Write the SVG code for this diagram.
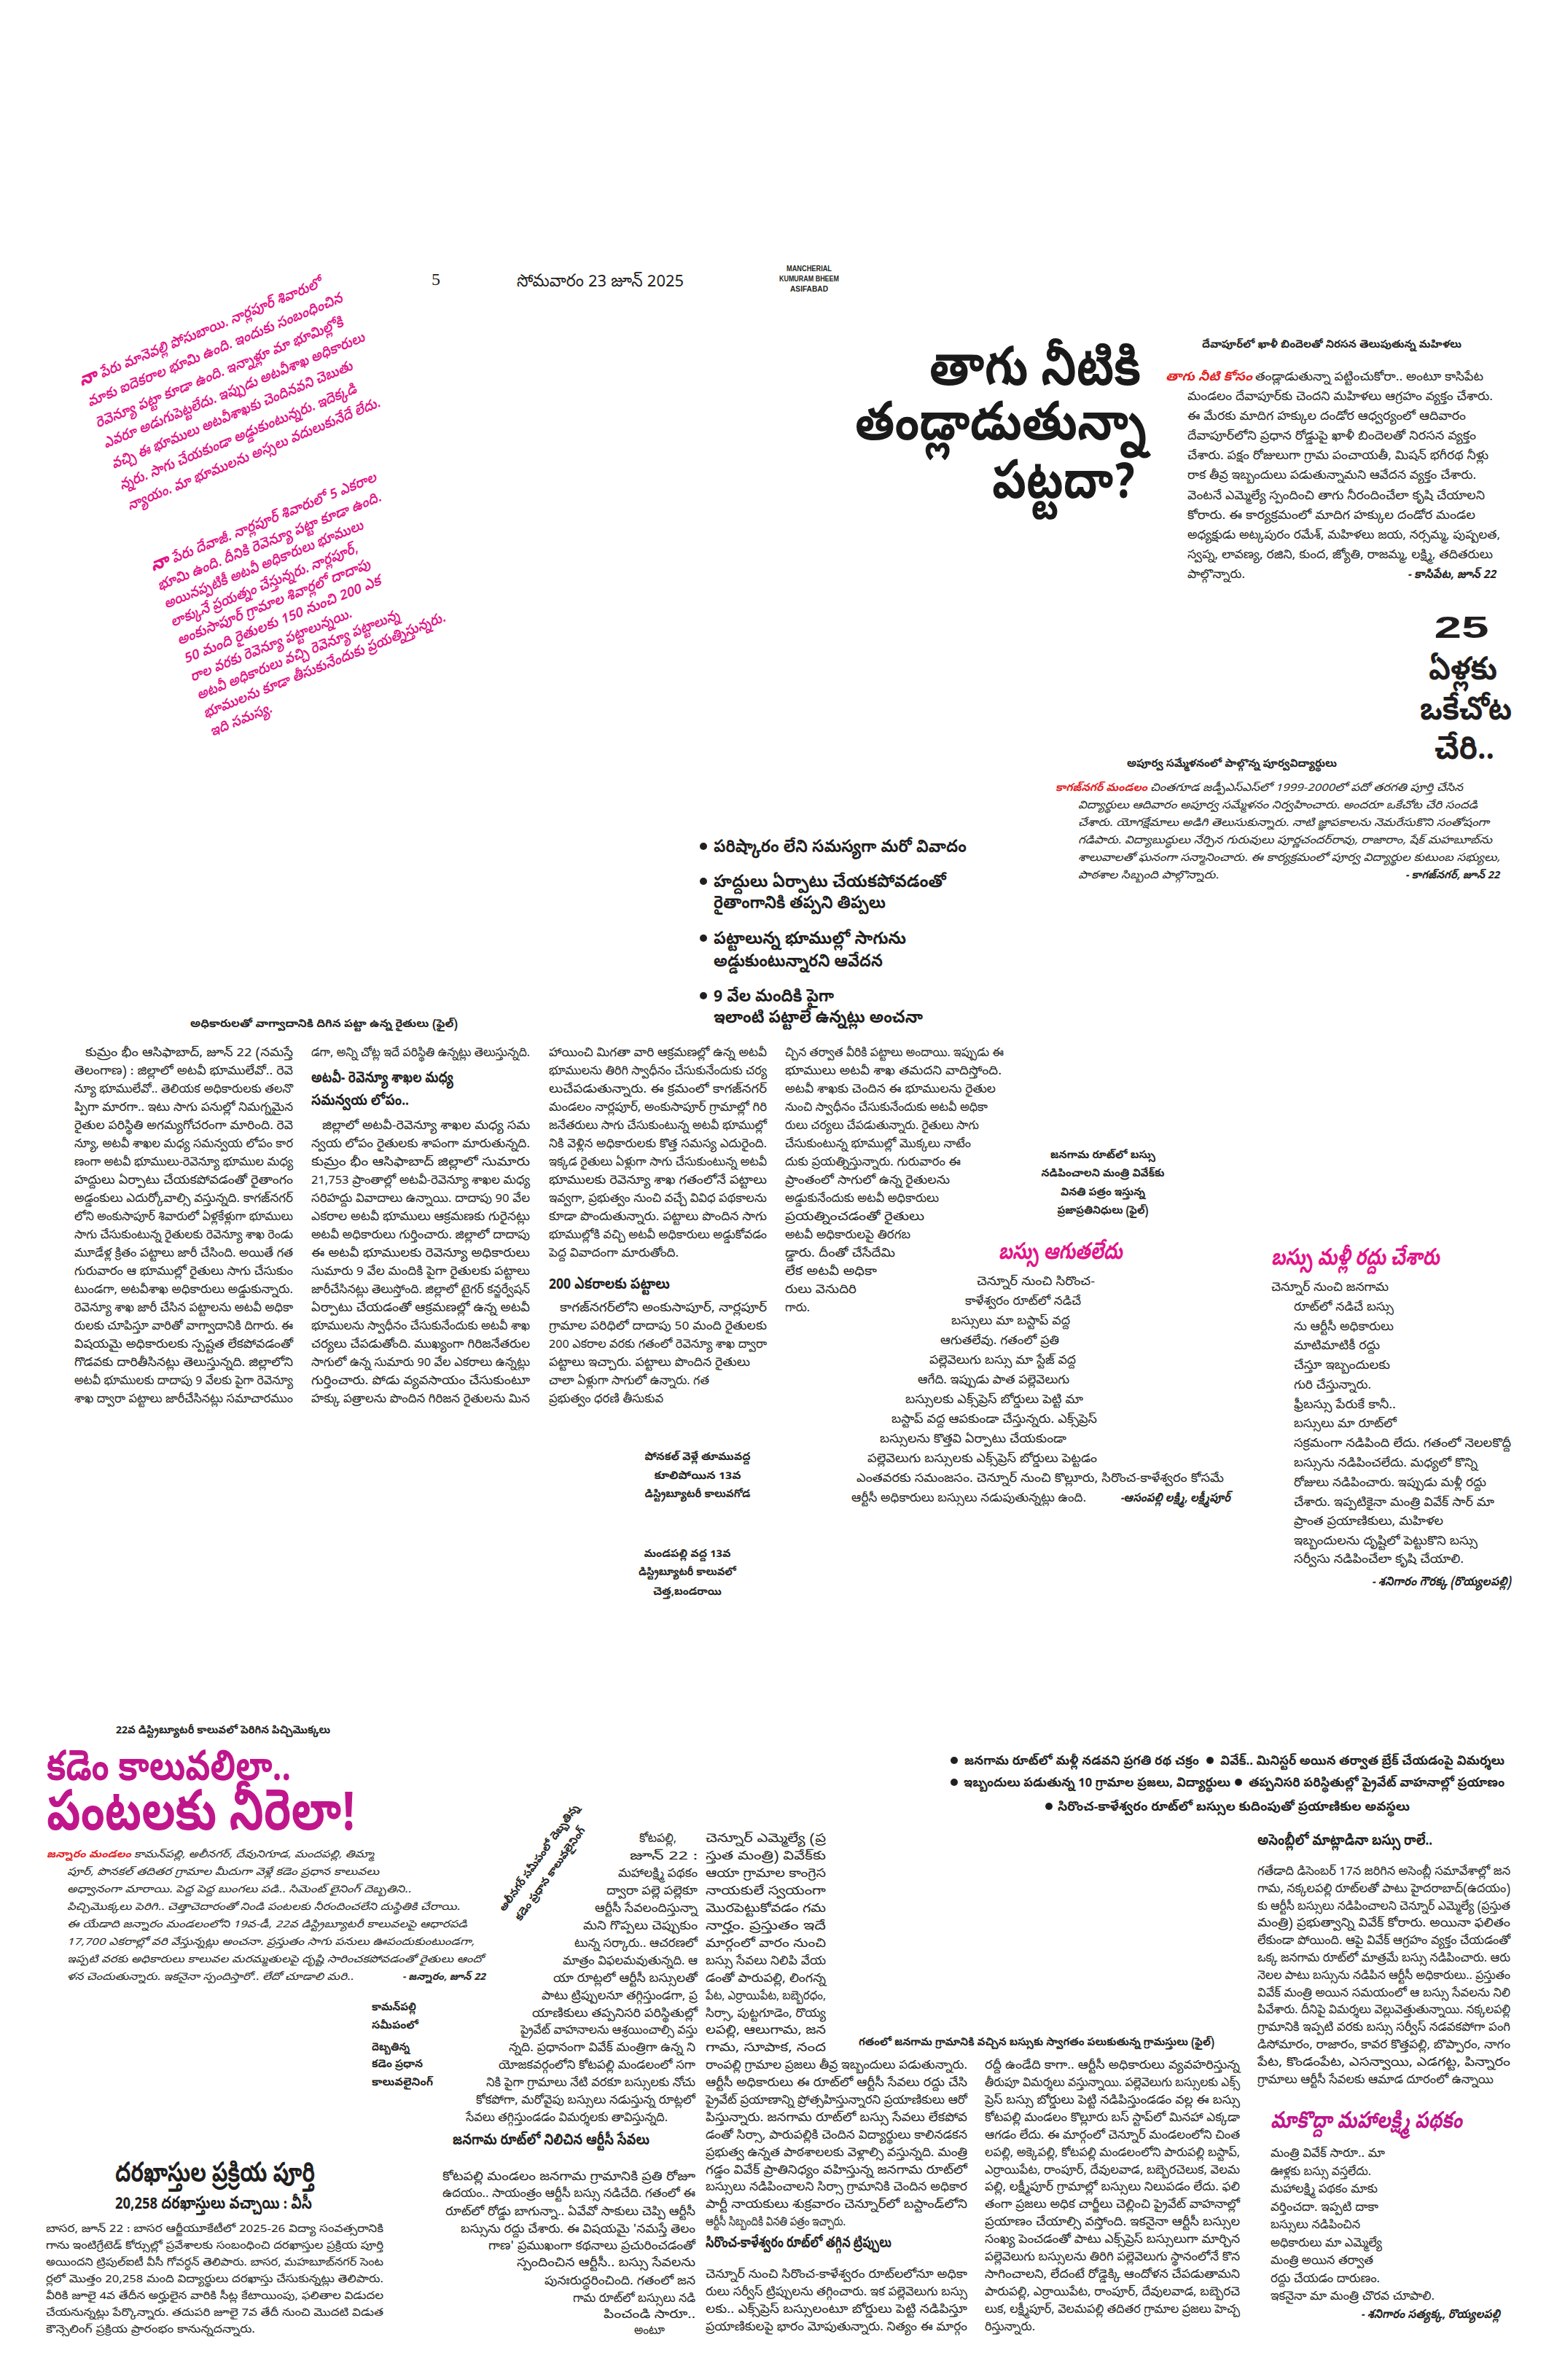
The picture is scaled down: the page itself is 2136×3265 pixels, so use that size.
<svg xmlns="http://www.w3.org/2000/svg" width="2136" height="3265" viewBox="0 0 2136 3265">
<defs>
<style>
text{font-family:"Noto Sans Telugu","Noto Sans","DejaVu Sans",sans-serif;fill:#231f20;font-size:17px}
.s14{font-size:14px}.s15{font-size:15px}.s16{font-size:16px}.s20{font-size:20px}.s24{font-size:24px}
.bd{font-weight:700}.it{font-style:italic}
.pk{fill:#E4138A}.mg{fill:#C0168C}.rd{fill:#E31E24}
.cap{font-size:15px;font-weight:700}
.sub{font-size:21px;font-weight:700}
.rot{font-size:20px;font-weight:600;fill:#E4138A;font-style:italic}
.hl{font-size:74px;font-weight:700;fill:#1a1a1a}
.mast{font-family:"Liberation Sans",Arial,sans-serif;font-size:11px;font-weight:700;text-anchor:middle}
.ser{font-family:"Liberation Serif","Noto Sans Telugu",serif}
</style>
</defs>
<rect width="2136" height="3265" fill="#ffffff"/>

<g id="header">
<text class="ser" x="592" y="391" style="font-size:24px">5</text>
<text x="709" y="393" style="font-size:24px" textLength="229" lengthAdjust="spacingAndGlyphs">సోమవారం 23 జూన్ 2025</text>
<text class="mast" x="1110" y="372" textLength="62" lengthAdjust="spacingAndGlyphs">MANCHERIAL</text>
<text class="mast" x="1110" y="386" textLength="82" lengthAdjust="spacingAndGlyphs">KUMURAM BHEEM</text>
<text class="mast" x="1110" y="400" textLength="52" lengthAdjust="spacingAndGlyphs">ASIFABAD</text>
</g>

<g id="quote-posubai">
<text class="rot" x="112" y="530" transform="rotate(-22.5 112 530)" textLength="358" lengthAdjust="spacingAndGlyphs"><tspan style="font-size:25px;font-weight:800">నా</tspan> పేరు మానెవల్లి పోసుబాయి. నార్లపూర్ శివారులో</text>
<text class="rot" x="123" y="558" transform="rotate(-22.5 123 558)" textLength="377" lengthAdjust="spacingAndGlyphs">మాకు ఐదెకరాల భూమి ఉంది. ఇందుకు సంబంధించిన</text>
<text class="rot" x="134" y="587" transform="rotate(-22.5 134 587)" textLength="366" lengthAdjust="spacingAndGlyphs">రెవెన్యూ పట్టా కూడా ఉంది. ఇన్నాళ్లూ మా భూమిల్లోకి</text>
<text class="rot" x="145" y="615" transform="rotate(-22.5 145 615)" textLength="386" lengthAdjust="spacingAndGlyphs">ఎవరూ అడుగుపెట్టలేదు. ఇప్పుడు అటవీశాఖ అధికారులు</text>
<text class="rot" x="156" y="643" transform="rotate(-22.5 156 643)" textLength="356" lengthAdjust="spacingAndGlyphs">వచ్చి ఈ భూములు అటవీశాఖకు చెందినవని చెబుతు</text>
<text class="rot" x="167" y="672" transform="rotate(-22.5 167 672)" textLength="350" lengthAdjust="spacingAndGlyphs">న్నరు. సాగు చేయకుండా అడ్డుకుంటున్నరు. ఇదెక్కడి</text>
<text class="rot" x="178" y="700" transform="rotate(-22.5 178 700)" textLength="373" lengthAdjust="spacingAndGlyphs">న్యాయం. మా భూములను అస్సలు వదులుకునేదే లేదు.</text>
</g>

<g id="quote-devaji">
<text class="rot" x="210" y="784" transform="rotate(-22 210 784)" textLength="332" lengthAdjust="spacingAndGlyphs"><tspan style="font-size:25px;font-weight:800">నా</tspan> పేరు దేవాజీ. నార్లపూర్ శివారులో 5 ఎకరాల</text>
<text class="rot" x="219" y="810" transform="rotate(-22 219 810)" textLength="329" lengthAdjust="spacingAndGlyphs">భూమి ఉంది. దీనికి రెవెన్యూ పట్టా కూడా ఉంది.</text>
<text class="rot" x="228" y="835" transform="rotate(-22 228 835)" textLength="293" lengthAdjust="spacingAndGlyphs">అయినప్పటికీ అటవీ అధికారులు భూములు</text>
<text class="rot" x="237" y="860" transform="rotate(-22 237 860)" textLength="275" lengthAdjust="spacingAndGlyphs">లాక్కునే ప్రయత్నం చేస్తున్నరు. నార్లపూర్,</text>
<text class="rot" x="246" y="885" transform="rotate(-22 246 885)" textLength="284" lengthAdjust="spacingAndGlyphs">అంకుసాపూర్ గ్రామాల శివార్లలో దాదాపు</text>
<text class="rot" x="255" y="910" transform="rotate(-22 255 910)" textLength="290" lengthAdjust="spacingAndGlyphs">50 మంది రైతులకు 150 నుంచి 200 ఎక</text>
<text class="rot" x="264" y="935" transform="rotate(-22 264 935)" textLength="237" lengthAdjust="spacingAndGlyphs">రాల వరకు రెవెన్యూ పట్టాలున్నయి.</text>
<text class="rot" x="273" y="960" transform="rotate(-22 273 960)" textLength="298" lengthAdjust="spacingAndGlyphs">అటవీ అధికారులు వచ్చి రెవెన్యూ పట్టాలున్న</text>
<text class="rot" x="282" y="985" transform="rotate(-22 282 985)" textLength="356" lengthAdjust="spacingAndGlyphs">భూములను కూడా తీసుకునేందుకు ప్రయత్నిస్తున్నరు.</text>
<text class="rot" x="291" y="1010" transform="rotate(-22 291 1010)" textLength="90" lengthAdjust="spacingAndGlyphs">ఇది సమస్య.</text>
</g>

<g id="water-story">
<text class="hl" x="1275" y="528" textLength="290" lengthAdjust="spacingAndGlyphs">తాగు నీటికి</text>
<text class="hl" x="1173" y="603" textLength="400" lengthAdjust="spacingAndGlyphs">తండ్లాడుతున్నా</text>
<text class="hl" x="1361" y="683" textLength="196" lengthAdjust="spacingAndGlyphs">పట్టదా?</text>
<text class="cap" x="1649" y="477" textLength="356" lengthAdjust="spacingAndGlyphs">దేవాపూర్&#8204;లో ఖాళీ బిందెలతో నిరసన తెలుపుతున్న మహిళలు</text>
<text class="rd bd it" x="1599" y="522" textLength="119" lengthAdjust="spacingAndGlyphs">తాగు నీటి కోసం</text>
<text x="1722" y="522" textLength="313" lengthAdjust="spacingAndGlyphs">తండ్లాడుతున్నా పట్టించుకోరా.. అంటూ కాసిపేట</text>
<text x="1629" y="549" textLength="419" lengthAdjust="spacingAndGlyphs">మండలం దేవాపూర్&#8204;కు చెందని మహిళలు ఆగ్రహం వ్యక్తం చేశారు.</text>
<text x="1629" y="576" textLength="382" lengthAdjust="spacingAndGlyphs">ఈ మేరకు మాదిగ హక్కుల దండోర ఆధ్వర్యంలో ఆదివారం</text>
<text x="1629" y="603" textLength="396" lengthAdjust="spacingAndGlyphs">దేవాపూర్&#8204;లోని ప్రధాన రోడ్డుపై ఖాళీ బిందెలతో నిరసన వ్యక్తం</text>
<text x="1629" y="630" textLength="413" lengthAdjust="spacingAndGlyphs">చేశారు. పక్షం రోజులుగా గ్రామ పంచాయతీ, మిషన్ భగీరథ నీళ్లు</text>
<text x="1629" y="657" textLength="396" lengthAdjust="spacingAndGlyphs">రాక తీవ్ర ఇబ్బందులు పడుతున్నామని ఆవేదన వ్యక్తం చేశారు.</text>
<text x="1629" y="685" textLength="408" lengthAdjust="spacingAndGlyphs">వెంటనే ఎమ్మెల్యే స్పందించి తాగు నీరందించేలా కృషి చేయాలని</text>
<text x="1629" y="712" textLength="395" lengthAdjust="spacingAndGlyphs">కోరారు. ఈ కార్యక్రమంలో మాదిగ హక్కుల దండోర మండల</text>
<text x="1629" y="739" textLength="429" lengthAdjust="spacingAndGlyphs">అధ్యక్షుడు అట్కపురం రమేశ్, మహిళలు జయ, నర్సమ్మ, పుష్పలత,</text>
<text x="1629" y="766" textLength="419" lengthAdjust="spacingAndGlyphs">స్వప్న, లావణ్య, రజిని, కుంద, జ్యోతి, రాజమ్మ, లక్ష్మి, తదితరులు</text>
<text x="1629" y="793" textLength="79" lengthAdjust="spacingAndGlyphs">పాల్గొన్నారు.</text>
<text class="bd it" x="1931" y="793" textLength="121" lengthAdjust="spacingAndGlyphs">- కాసిపేట, జూన్ 22</text>
</g>

<g id="reunion-story">
<text class="bd" x="2005" y="875" text-anchor="middle" style="font-size:42px;font-family:'Liberation Sans',Arial,sans-serif" textLength="75" lengthAdjust="spacingAndGlyphs">25</text>
<text class="bd" x="2007" y="932" text-anchor="middle" style="font-size:44px" textLength="94" lengthAdjust="spacingAndGlyphs">ఏళ్లకు</text>
<text class="bd" x="2011" y="987" text-anchor="middle" style="font-size:44px" textLength="126" lengthAdjust="spacingAndGlyphs">ఒకేచోట</text>
<text class="bd" x="2009" y="1041" text-anchor="middle" style="font-size:44px" textLength="82" lengthAdjust="spacingAndGlyphs">చేరి..</text>
<text class="cap" x="1546" y="1052" textLength="288" lengthAdjust="spacingAndGlyphs">అపూర్వ సమ్మేళనంలో పాల్గొన్న పూర్వవిద్యార్థులు</text>
<text class="rd bd it s15" x="1448" y="1085" textLength="126" lengthAdjust="spacingAndGlyphs">కాగజ్&#8204;నగర్ మండలం</text>
<text class="it s15" x="1578" y="1085" textLength="429" lengthAdjust="spacingAndGlyphs">చింతగూడ జడ్పీఎస్ఎస్&#8204;లో 1999-2000లో పదో తరగతి పూర్తి చేసిన</text>
<text class="it s15" x="1479" y="1109" textLength="548" lengthAdjust="spacingAndGlyphs">విద్యార్థులు ఆదివారం అపూర్వ సమ్మేళనం నిర్వహించారు. అందరూ ఒకేచోట చేరి సందడి</text>
<text class="it s15" x="1479" y="1133" textLength="564" lengthAdjust="spacingAndGlyphs">చేశారు. యోగక్షేమాలు అడిగి తెలుసుకున్నారు. నాటి జ్ఞాపకాలను నెమరేసుకొని సంతోషంగా</text>
<text class="it s15" x="1479" y="1157" textLength="568" lengthAdjust="spacingAndGlyphs">గడిపారు. విద్యాబుద్ధులు నేర్పిన గురువులు పూర్ణచందర్&#8204;రావు, రాజారాం, షేక్ మహబూబ్&#8204;ను</text>
<text class="it s15" x="1479" y="1181" textLength="579" lengthAdjust="spacingAndGlyphs">శాలువాలతో ఘనంగా సన్మానించారు. ఈ కార్యక్రమంలో పూర్వ విద్యార్థుల కుటుంబ సభ్యులు,</text>
<text class="it s15" x="1479" y="1205" textLength="193" lengthAdjust="spacingAndGlyphs">పాఠశాల సిబ్బంది పాల్గొన్నారు.</text>
<text class="bd it s15" x="1928" y="1205" textLength="129" lengthAdjust="spacingAndGlyphs">- కాగజ్&#8204;నగర్, జూన్ 22</text>
</g>

<g id="forest-highlights">
<circle cx="965" cy="1161" r="5" fill="#231f20"/>
<text class="bd s24" x="979" y="1169" textLength="347" lengthAdjust="spacingAndGlyphs">పరిష్కారం లేని సమస్యగా మరో వివాదం</text>
<circle cx="965" cy="1209" r="5" fill="#231f20"/>
<text class="bd s24" x="979" y="1217" textLength="319" lengthAdjust="spacingAndGlyphs">హద్దులు ఏర్పాటు చేయకపోవడంతో</text>
<text class="bd s24" x="979" y="1246" textLength="236" lengthAdjust="spacingAndGlyphs">రైతాంగానికి తప్పని తిప్పలు</text>
<circle cx="965" cy="1287" r="5" fill="#231f20"/>
<text class="bd s24" x="979" y="1295" textLength="264" lengthAdjust="spacingAndGlyphs">పట్టాలున్న భూముల్లో సాగును</text>
<text class="bd s24" x="979" y="1326" textLength="232" lengthAdjust="spacingAndGlyphs">అడ్డుకుంటున్నారని ఆవేదన</text>
<circle cx="965" cy="1366" r="5" fill="#231f20"/>
<text class="bd s24" x="979" y="1374" textLength="165" lengthAdjust="spacingAndGlyphs">9 వేల మందికి పైగా</text>
<text class="bd s24" x="979" y="1403" textLength="287" lengthAdjust="spacingAndGlyphs">ఇలాంటి పట్టాలే ఉన్నట్లు అంచనా</text>
</g>

<g id="forest-story">
<text class="cap" x="261" y="1409" textLength="367" lengthAdjust="spacingAndGlyphs">అధికారులతో వాగ్వాదానికి దిగిన పట్టా ఉన్న రైతులు (ఫైల్)</text>
<text x="117" y="1449" textLength="285" lengthAdjust="spacingAndGlyphs">కుమ్రం భీం ఆసిఫాబాద్, జూన్ 22 (నమస్తే</text>
<text x="102" y="1474" textLength="300" lengthAdjust="spacingAndGlyphs">తెలంగాణ) : జిల్లాలో అటవీ భూములేవో.. రెవె</text>
<text x="102" y="1499" textLength="300" lengthAdjust="spacingAndGlyphs">న్యూ భూములేవో.. తెలియక అధికారులకు తలనొ</text>
<text x="102" y="1524" textLength="300" lengthAdjust="spacingAndGlyphs">ప్పిగా మారగా.. ఇటు సాగు పనుల్లో నిమగ్నమైన</text>
<text x="102" y="1549" textLength="300" lengthAdjust="spacingAndGlyphs">రైతుల పరిస్థితి అగమ్యగోచరంగా మారింది. రెవె</text>
<text x="102" y="1574" textLength="300" lengthAdjust="spacingAndGlyphs">న్యూ, అటవీ శాఖల మధ్య సమన్వయ లోపం కార</text>
<text x="102" y="1599" textLength="300" lengthAdjust="spacingAndGlyphs">ణంగా అటవీ భూములు-రెవెన్యూ భూముల మధ్య</text>
<text x="102" y="1624" textLength="300" lengthAdjust="spacingAndGlyphs">హద్దులు ఏర్పాటు చేయకపోవడంతో రైతాంగం</text>
<text x="102" y="1649" textLength="300" lengthAdjust="spacingAndGlyphs">అడ్డంకులు ఎదుర్కోవాల్సి వస్తున్నది. కాగజ్&#8204;నగర్</text>
<text x="102" y="1674" textLength="300" lengthAdjust="spacingAndGlyphs">లోని అంకుసాపూర్ శివారులో ఏళ్లకేళ్లుగా భూములు</text>
<text x="102" y="1699" textLength="300" lengthAdjust="spacingAndGlyphs">సాగు చేసుకుంటున్న రైతులకు రెవెన్యూ శాఖ రెండు</text>
<text x="102" y="1724" textLength="300" lengthAdjust="spacingAndGlyphs">మూడేళ్ల క్రితం పట్టాలు జారీ చేసింది. అయితే గత</text>
<text x="102" y="1749" textLength="300" lengthAdjust="spacingAndGlyphs">గురువారం ఆ భూముల్లో రైతులు సాగు చేసుకుం</text>
<text x="102" y="1774" textLength="300" lengthAdjust="spacingAndGlyphs">టుండగా, అటవీశాఖ అధికారులు అడ్డుకున్నారు.</text>
<text x="102" y="1799" textLength="300" lengthAdjust="spacingAndGlyphs">రెవెన్యూ శాఖ జారీ చేసిన పట్టాలను అటవీ అధికా</text>
<text x="102" y="1824" textLength="300" lengthAdjust="spacingAndGlyphs">రులకు చూపిస్తూ వారితో వాగ్వాదానికి దిగారు. ఈ</text>
<text x="102" y="1849" textLength="300" lengthAdjust="spacingAndGlyphs">విషయమై అధికారులకు స్పష్టత లేకపోవడంతో</text>
<text x="102" y="1874" textLength="300" lengthAdjust="spacingAndGlyphs">గొడవకు దారితీసినట్లు తెలుస్తున్నది. జిల్లాలోని</text>
<text x="102" y="1899" textLength="300" lengthAdjust="spacingAndGlyphs">అటవీ భూములకు దాదాపు 9 వేలకు పైగా రెవెన్యూ</text>
<text x="102" y="1924" textLength="300" lengthAdjust="spacingAndGlyphs">శాఖ ద్వారా పట్టాలు జారీచేసినట్లు సమాచారముం</text>

<text x="427" y="1449" textLength="300" lengthAdjust="spacingAndGlyphs">డగా, అన్ని చోట్ల ఇదే పరిస్థితి ఉన్నట్లు తెలుస్తున్నది.</text>
<text class="sub" x="427" y="1485" textLength="195" lengthAdjust="spacingAndGlyphs">అటవీ- రెవెన్యూ శాఖల మధ్య</text>
<text class="sub" x="427" y="1516" textLength="134" lengthAdjust="spacingAndGlyphs">సమన్వయ లోపం..</text>
<text x="442" y="1549" textLength="285" lengthAdjust="spacingAndGlyphs">జిల్లాలో అటవీ-రెవెన్యూ శాఖల మధ్య సమ</text>
<text x="427" y="1574" textLength="300" lengthAdjust="spacingAndGlyphs">న్వయ లోపం రైతులకు శాపంగా మారుతున్నది.</text>
<text x="427" y="1599" textLength="300" lengthAdjust="spacingAndGlyphs">కుమ్రం భీం ఆసిఫాబాద్ జిల్లాలో సుమారు</text>
<text x="427" y="1624" textLength="300" lengthAdjust="spacingAndGlyphs">21,753 ప్రాంతాల్లో అటవీ-రెవెన్యూ శాఖల మధ్య</text>
<text x="427" y="1649" textLength="300" lengthAdjust="spacingAndGlyphs">సరిహద్దు వివాదాలు ఉన్నాయి. దాదాపు 90 వేల</text>
<text x="427" y="1674" textLength="300" lengthAdjust="spacingAndGlyphs">ఎకరాల అటవీ భూములు ఆక్రమణకు గురైనట్లు</text>
<text x="427" y="1699" textLength="300" lengthAdjust="spacingAndGlyphs">అటవీ అధికారులు గుర్తించారు. జిల్లాలో దాదాపు</text>
<text x="427" y="1724" textLength="300" lengthAdjust="spacingAndGlyphs">ఈ అటవీ భూములకు రెవెన్యూ అధికారులు</text>
<text x="427" y="1749" textLength="300" lengthAdjust="spacingAndGlyphs">సుమారు 9 వేల మందికి పైగా రైతులకు పట్టాలు</text>
<text x="427" y="1774" textLength="300" lengthAdjust="spacingAndGlyphs">జారీచేసినట్లు తెలుస్తోంది. జిల్లాలో టైగర్ కన్జర్వేషన్</text>
<text x="427" y="1799" textLength="300" lengthAdjust="spacingAndGlyphs">ఏర్పాటు చేయడంతో ఆక్రమణల్లో ఉన్న అటవీ</text>
<text x="427" y="1824" textLength="300" lengthAdjust="spacingAndGlyphs">భూములను స్వాధీనం చేసుకునేందుకు అటవీ శాఖ</text>
<text x="427" y="1849" textLength="300" lengthAdjust="spacingAndGlyphs">చర్యలు చేపడుతోంది. ముఖ్యంగా గిరిజనేతరుల</text>
<text x="427" y="1874" textLength="300" lengthAdjust="spacingAndGlyphs">సాగులో ఉన్న సుమారు 90 వేల ఎకరాలు ఉన్నట్లు</text>
<text x="427" y="1899" textLength="300" lengthAdjust="spacingAndGlyphs">గుర్తించారు. పోడు వ్యవసాయం చేసుకుంటూ</text>
<text x="427" y="1924" textLength="300" lengthAdjust="spacingAndGlyphs">హక్కు పత్రాలను పొందిన గిరిజన రైతులను మిన</text>

<text x="753" y="1449" textLength="299" lengthAdjust="spacingAndGlyphs">హాయించి మిగతా వారి ఆక్రమణల్లో ఉన్న అటవీ</text>
<text x="753" y="1474" textLength="299" lengthAdjust="spacingAndGlyphs">భూములను తిరిగి స్వాధీనం చేసుకునేందుకు చర్య</text>
<text x="753" y="1499" textLength="299" lengthAdjust="spacingAndGlyphs">లుచేపడుతున్నారు. ఈ క్రమంలో కాగజ్&#8204;నగర్</text>
<text x="753" y="1524" textLength="299" lengthAdjust="spacingAndGlyphs">మండలం నార్లపూర్, అంకుసాపూర్ గ్రామాల్లో గిరి</text>
<text x="753" y="1549" textLength="299" lengthAdjust="spacingAndGlyphs">జనేతరులు సాగు చేసుకుంటున్న అటవీ భూముల్లో</text>
<text x="753" y="1574" textLength="299" lengthAdjust="spacingAndGlyphs">నికి వెళ్లిన అధికారులకు కొత్త సమస్య ఎదురైంది.</text>
<text x="753" y="1599" textLength="299" lengthAdjust="spacingAndGlyphs">ఇక్కడ రైతులు ఏళ్లుగా సాగు చేసుకుంటున్న అటవీ</text>
<text x="753" y="1624" textLength="299" lengthAdjust="spacingAndGlyphs">భూములకు రెవెన్యూ శాఖ గతంలోనే పట్టాలు</text>
<text x="753" y="1649" textLength="299" lengthAdjust="spacingAndGlyphs">ఇవ్వగా, ప్రభుత్వం నుంచి వచ్చే వివిధ పథకాలను</text>
<text x="753" y="1674" textLength="299" lengthAdjust="spacingAndGlyphs">కూడా పొందుతున్నారు. పట్టాలు పొందిన సాగు</text>
<text x="753" y="1699" textLength="299" lengthAdjust="spacingAndGlyphs">భూముల్లోకి వచ్చి అటవీ అధికారులు అడ్డుకోవడం</text>
<text x="753" y="1724" textLength="178" lengthAdjust="spacingAndGlyphs">పెద్ద వివాదంగా మారుతోంది.</text>
<text class="sub" x="753" y="1768" textLength="166" lengthAdjust="spacingAndGlyphs">200 ఎకరాలకు పట్టాలు</text>
<text x="768" y="1799" textLength="284" lengthAdjust="spacingAndGlyphs">కాగజ్&#8204;నగర్&#8204;లోని అంకుసాపూర్, నార్లపూర్</text>
<text x="753" y="1824" textLength="299" lengthAdjust="spacingAndGlyphs">గ్రామాల పరిధిలో దాదాపు 50 మంది రైతులకు</text>
<text x="753" y="1849" textLength="299" lengthAdjust="spacingAndGlyphs">200 ఎకరాల వరకు గతంలో రెవెన్యూ శాఖ ద్వారా</text>
<text x="753" y="1874" textLength="276" lengthAdjust="spacingAndGlyphs">పట్టాలు ఇచ్చారు. పట్టాలు పొందిన రైతులు</text>
<text x="753" y="1899" textLength="220" lengthAdjust="spacingAndGlyphs">చాలా ఏళ్లుగా సాగులో ఉన్నారు. గత</text>
<text x="753" y="1924" textLength="157" lengthAdjust="spacingAndGlyphs">ప్రభుత్వం ధరణి తీసుకువ</text>

<text x="1077" y="1449" textLength="300" lengthAdjust="spacingAndGlyphs">చ్చిన తర్వాత వీరికి పట్టాలు అందాయి. ఇప్పుడు ఈ</text>
<text x="1077" y="1474" textLength="297" lengthAdjust="spacingAndGlyphs">భూములు అటవీ శాఖ తమదని వాదిస్తోంది.</text>
<text x="1077" y="1499" textLength="289" lengthAdjust="spacingAndGlyphs">అటవీ శాఖకు చెందిన ఈ భూములను రైతుల</text>
<text x="1077" y="1524" textLength="278" lengthAdjust="spacingAndGlyphs">నుంచి స్వాధీనం చేసుకునేందుకు అటవీ అధికా</text>
<text x="1077" y="1549" textLength="266" lengthAdjust="spacingAndGlyphs">రులు చర్యలు చేపడుతున్నారు. రైతులు సాగు</text>
<text x="1077" y="1574" textLength="255" lengthAdjust="spacingAndGlyphs">చేసుకుంటున్న భూముల్లో మొక్కలు నాటేం</text>
<text x="1077" y="1599" textLength="241" lengthAdjust="spacingAndGlyphs">దుకు ప్రయత్నిస్తున్నారు. గురువారం ఈ</text>
<text x="1077" y="1624" textLength="226" lengthAdjust="spacingAndGlyphs">ప్రాంతంలో సాగులో ఉన్న రైతులను</text>
<text x="1077" y="1649" textLength="211" lengthAdjust="spacingAndGlyphs">అడ్డుకునేందుకు అటవీ అధికారులు</text>
<text x="1077" y="1674" textLength="191" lengthAdjust="spacingAndGlyphs">ప్రయత్నించడంతో      రైతులు</text>
<text x="1077" y="1699" textLength="172" lengthAdjust="spacingAndGlyphs">అటవీ అధికారులపై తిరగబ</text>
<text x="1077" y="1724" textLength="151" lengthAdjust="spacingAndGlyphs">డ్డారు.  దీంతో  చేసేదేమి</text>
<text x="1077" y="1749" textLength="126" lengthAdjust="spacingAndGlyphs">లేక   అటవీ   అధికా</text>
<text x="1077" y="1774" textLength="98" lengthAdjust="spacingAndGlyphs">రులు    వెనుదిరి</text>
<text x="1077" y="1799" textLength="34" lengthAdjust="spacingAndGlyphs">గారు.</text>
</g>

<g id="bus-stop-story">
<text class="cap" x="1513" y="1589" text-anchor="middle" textLength="144" lengthAdjust="spacingAndGlyphs">జనగామ రూట్&#8204;లో బస్సు</text>
<text class="cap" x="1513" y="1614" text-anchor="middle" textLength="169" lengthAdjust="spacingAndGlyphs">నడిపించాలని మంత్రి వివేక్&#8204;కు</text>
<text class="cap" x="1513" y="1640" text-anchor="middle" textLength="116" lengthAdjust="spacingAndGlyphs">వినతి పత్రం ఇస్తున్న</text>
<text class="cap" x="1513" y="1665" text-anchor="middle" textLength="125" lengthAdjust="spacingAndGlyphs">ప్రజాప్రతినిధులు (ఫైల్)</text>
<text class="pk bd it" x="1370" y="1727" style="font-size:32px" textLength="170" lengthAdjust="spacingAndGlyphs">బస్సు ఆగుతలేదు</text>
<text x="1340" y="1763" textLength="162" lengthAdjust="spacingAndGlyphs">చెన్నూర్ నుంచి సిరొంచ-</text>
<text x="1324" y="1790" textLength="159" lengthAdjust="spacingAndGlyphs">కాళేశ్వరం రూట్&#8204;లో నడిచే</text>
<text x="1305" y="1817" textLength="163" lengthAdjust="spacingAndGlyphs">బస్సులు మా బస్టాప్ వద్ద</text>
<text x="1290" y="1844" textLength="163" lengthAdjust="spacingAndGlyphs">ఆగుతలేవు. గతంలో ప్రతి</text>
<text x="1275" y="1871" textLength="201" lengthAdjust="spacingAndGlyphs">పల్లెవెలుగు బస్సు మా స్టేజ్ వద్ద</text>
<text x="1259" y="1898" textLength="208" lengthAdjust="spacingAndGlyphs">ఆగేది. ఇప్పుడు పాత పల్లెవెలుగు</text>
<text x="1242" y="1925" textLength="244" lengthAdjust="spacingAndGlyphs">బస్సులకు ఎక్స్&#8204;ప్రెస్ బోర్డులు పెట్టి మా</text>
<text x="1223" y="1952" textLength="282" lengthAdjust="spacingAndGlyphs">బస్టాప్ వద్ద ఆపకుండా చేస్తున్నరు. ఎక్స్&#8204;ప్రెస్</text>
<text x="1207" y="1979" textLength="256" lengthAdjust="spacingAndGlyphs">బస్సులను కొత్తవి ఏర్పాటు చేయకుండా</text>
<text x="1190" y="2006" textLength="315" lengthAdjust="spacingAndGlyphs">పల్లెవెలుగు బస్సులకు ఎక్స్&#8204;ప్రెస్ బోర్డులు పెట్టడం</text>
<text x="1175" y="2033" textLength="504" lengthAdjust="spacingAndGlyphs">ఎంతవరకు సమంజసం. చెన్నూర్ నుంచి కొల్లూరు, సిరొంచ-కాళేశ్వరం కోసమే</text>
<text x="1168" y="2060" textLength="322" lengthAdjust="spacingAndGlyphs">ఆర్టీసీ అధికారులు బస్సులు నడుపుతున్నట్లు ఉంది.</text>
<text class="bd it" x="1537" y="2060" textLength="151" lengthAdjust="spacingAndGlyphs">-ఆసంపల్లి లక్ష్మి, లక్ష్మీపూర్</text>
</g>

<g id="bus-cancel-story">
<text class="pk bd it" x="1744" y="1735" style="font-size:32px" textLength="231" lengthAdjust="spacingAndGlyphs">బస్సు మళ్లీ రద్దు చేశారు</text>
<text x="1744" y="1771" textLength="161" lengthAdjust="spacingAndGlyphs">చెన్నూర్ నుంచి జనగామ</text>
<text x="1775" y="1798" textLength="137" lengthAdjust="spacingAndGlyphs">రూట్&#8204;లో నడిచే బస్సు</text>
<text x="1775" y="1825" textLength="137" lengthAdjust="spacingAndGlyphs">ను ఆర్టీసీ అధికారులు</text>
<text x="1775" y="1851" textLength="118" lengthAdjust="spacingAndGlyphs">మాటిమాటికీ రద్దు</text>
<text x="1775" y="1878" textLength="132" lengthAdjust="spacingAndGlyphs">చేస్తూ ఇబ్బందులకు</text>
<text x="1775" y="1905" textLength="106" lengthAdjust="spacingAndGlyphs">గురి చేస్తున్నారు.</text>
<text x="1775" y="1932" textLength="140" lengthAdjust="spacingAndGlyphs">ఫ్రీబస్సు పేరుకే కానీ..</text>
<text x="1775" y="1958" textLength="141" lengthAdjust="spacingAndGlyphs">బస్సులు మా రూట్&#8204;లో</text>
<text x="1775" y="1985" textLength="298" lengthAdjust="spacingAndGlyphs">సక్రమంగా నడిపింది లేదు. గతంలో నెలలకొద్దీ</text>
<text x="1775" y="2012" textLength="252" lengthAdjust="spacingAndGlyphs">బస్సును నడిపించలేదు. మధ్యలో కొన్ని</text>
<text x="1775" y="2039" textLength="264" lengthAdjust="spacingAndGlyphs">రోజులు నడిపించారు. ఇప్పుడు మళ్లీ రద్దు</text>
<text x="1775" y="2066" textLength="275" lengthAdjust="spacingAndGlyphs">చేశారు. ఇప్పటికైనా మంత్రి వివేక్ సార్ మా</text>
<text x="1775" y="2092" textLength="205" lengthAdjust="spacingAndGlyphs">ప్రాంత ప్రయాణికులు, మహిళల</text>
<text x="1775" y="2119" textLength="252" lengthAdjust="spacingAndGlyphs">ఇబ్బందులను దృష్టిలో పెట్టుకొని బస్సు</text>
<text x="1775" y="2144" textLength="233" lengthAdjust="spacingAndGlyphs">సర్వీసు నడిపించేలా కృషి చేయాలి.</text>
<text class="bd it" x="1882" y="2175" textLength="191" lengthAdjust="spacingAndGlyphs">- శనిగారం గౌరక్క (రొయ్యలపల్లి)</text>
</g>

<g id="canal-photo-captions">
<text class="cap" x="957" y="2003" text-anchor="middle" textLength="145" lengthAdjust="spacingAndGlyphs">పోనకల్ వెళ్లే తూమువద్ద</text>
<text class="cap" x="957" y="2029" text-anchor="middle" textLength="119" lengthAdjust="spacingAndGlyphs">కూలిపోయిన 13వ</text>
<text class="cap" x="957" y="2054" text-anchor="middle" textLength="145" lengthAdjust="spacingAndGlyphs">డిస్ట్రిబ్యూటరీ కాలువగోడ</text>
<text class="cap" x="943" y="2136" text-anchor="middle" textLength="119" lengthAdjust="spacingAndGlyphs">మండపల్లి వద్ద 13వ</text>
<text class="cap" x="943" y="2161" text-anchor="middle" textLength="134" lengthAdjust="spacingAndGlyphs">డిస్ట్రిబ్యూటరీ కాలువలో</text>
<text class="cap" x="943" y="2188" text-anchor="middle" textLength="94" lengthAdjust="spacingAndGlyphs">చెత్త,బండరాయి</text>
</g>

<g id="kadem-story">
<text class="cap" x="159" y="2378" textLength="294" lengthAdjust="spacingAndGlyphs">22వ డిస్ట్రిబ్యూటరీ కాలువలో పెరిగిన పిచ్చిమొక్కలు</text>
<text class="mg bd" x="64" y="2442" style="font-size:58px" textLength="335" lengthAdjust="spacingAndGlyphs">కడెం కాలువలిలా..</text>
<text class="mg bd" x="64" y="2510" style="font-size:78px" textLength="424" lengthAdjust="spacingAndGlyphs">పంటలకు నీరెలా!</text>
<text class="rd bd it s14" x="64" y="2548" textLength="116" lengthAdjust="spacingAndGlyphs">జన్నారం మండలం</text>
<text class="it s14" x="184" y="2548" textLength="329" lengthAdjust="spacingAndGlyphs">కామన్&#8204;పల్లి, అలీనగర్, దేవునిగూడ, మందపల్లి, తిమ్మా</text>
<text class="it s14" x="92" y="2572" textLength="428" lengthAdjust="spacingAndGlyphs">పూర్, పొనకల్ తదితర గ్రామాల మీదుగా వెళ్లే కడెం ప్రధాన కాలువలు</text>
<text class="it s14" x="92" y="2596" textLength="472" lengthAdjust="spacingAndGlyphs">అధ్వానంగా మారాయి. పెద్ద పెద్ద బుంగలు పడి.. సిమెంట్ లైనింగ్ దెబ్బతిని..</text>
<text class="it s14" x="92" y="2620" textLength="539" lengthAdjust="spacingAndGlyphs">పిచ్చిమొక్కలు పెరిగి.. చెత్తాచెదారంతో నిండి పంటలకు నీరందించలేని దుస్థితికి చేరాయి.</text>
<text class="it s14" x="92" y="2644" textLength="549" lengthAdjust="spacingAndGlyphs">ఈ యేడాది జన్నారం మండలంలోని 19వ-డీ, 22వ డిస్ట్రిబ్యూటరీ కాలువలపై ఆధారపడి</text>
<text class="it s14" x="92" y="2668" textLength="559" lengthAdjust="spacingAndGlyphs">17,700 ఎకరాల్లో వరి వేస్తున్నట్లు అంచనా. ప్రస్తుతం సాగు పనులు ఊపందుకుంటుండగా,</text>
<text class="it s14" x="92" y="2692" textLength="571" lengthAdjust="spacingAndGlyphs">ఇప్పటి వరకు అధికారులు కాలువల మరమ్మతులపై దృష్టి సారించకపోవడంతో రైతులు ఆందో</text>
<text class="it s14" x="92" y="2716" textLength="393" lengthAdjust="spacingAndGlyphs">ళన చెందుతున్నారు. ఇకనైనా స్పందిస్తారో.. లేదో చూడాలి మరి..</text>
<text class="bd it s14" x="552" y="2716" textLength="114" lengthAdjust="spacingAndGlyphs">- జన్నారం, జూన్ 22</text>
<text class="cap" x="510" y="2758" textLength="61" lengthAdjust="spacingAndGlyphs">కామన్&#8204;పల్లి</text>
<text class="cap" x="510" y="2783" textLength="64" lengthAdjust="spacingAndGlyphs">సమీపంలో</text>
<text class="cap" x="510" y="2813" textLength="52" lengthAdjust="spacingAndGlyphs">దెబ్బతిన్న</text>
<text class="cap" x="510" y="2836" textLength="70" lengthAdjust="spacingAndGlyphs">కడెం ప్రధాన</text>
<text class="cap" x="510" y="2861" textLength="84" lengthAdjust="spacingAndGlyphs">కాలువలైనింగ్</text>
<text class="cap" x="692" y="2623" transform="rotate(-54.5 692 2623)" textLength="176" lengthAdjust="spacingAndGlyphs">అలీనగర్ సమీపంలో దెబ్బతిన్న</text>
<text class="cap" x="714" y="2636" transform="rotate(-54.5 714 2636)" textLength="154" lengthAdjust="spacingAndGlyphs">కడెం ప్రధాన కాలువలైనింగ్</text>
</g>

<g id="iiit-story">
<text class="bd" x="158" y="2993" style="font-size:38px" textLength="274" lengthAdjust="spacingAndGlyphs">దరఖాస్తుల ప్రక్రియ పూర్తి</text>
<text class="bd" x="158" y="3030" style="font-size:24px" textLength="270" lengthAdjust="spacingAndGlyphs">20,258 దరఖాస్తులు వచ్చాయి : వీసీ</text>
<text class="s15" x="63" y="3062" textLength="463" lengthAdjust="spacingAndGlyphs">బాసర, జూన్ 22 : బాసర ఆర్జీయూకేటీలో 2025-26 విద్యా సంవత్సరానికి</text>
<text class="s15" x="63" y="3085" textLength="463" lengthAdjust="spacingAndGlyphs">గాను ఇంటిగ్రేటెడ్ కోర్సుల్లో ప్రవేశాలకు సంబంధించి దరఖాస్తుల ప్రక్రియ పూర్తి</text>
<text class="s15" x="63" y="3108" textLength="463" lengthAdjust="spacingAndGlyphs">అయిందని ట్రిపుల్&#8204;ఐటీ వీసీ గోవర్ధన్ తెలిపారు. బాసర, మహబూబ్&#8204;నగర్ సెంట</text>
<text class="s15" x="63" y="3131" textLength="463" lengthAdjust="spacingAndGlyphs">ర్లలో మొత్తం 20,258 మంది విద్యార్థులు దరఖాస్తు చేసుకున్నట్లు తెలిపారు.</text>
<text class="s15" x="63" y="3154" textLength="463" lengthAdjust="spacingAndGlyphs">వీరికి జూలై 4వ తేదీన అర్హులైన వారికి సీట్ల కేటాయింపు, ఫలితాల విడుదల</text>
<text class="s15" x="63" y="3177" textLength="463" lengthAdjust="spacingAndGlyphs">చేయనున్నట్లు పేర్కొన్నారు. తదుపరి జూలై 7వ తేదీ నుంచి మొదటి విడుత</text>
<text class="s15" x="63" y="3200" textLength="287" lengthAdjust="spacingAndGlyphs">కౌన్సెలింగ్ ప్రక్రియ ప్రారంభం కానున్నదన్నారు.</text>
</g>

<g id="bus-main-highlights">
<circle cx="1309" cy="2415" r="5" fill="#231f20"/>
<text class="bd" x="1323" y="2421" style="font-size:18px" textLength="322" lengthAdjust="spacingAndGlyphs">జనగామ రూట్&#8204;లో మళ్లీ నడవని ప్రగతి రథ చక్రం</text>
<circle cx="1660" cy="2415" r="5" fill="#231f20"/>
<text class="bd" x="1674" y="2421" style="font-size:18px" textLength="390" lengthAdjust="spacingAndGlyphs">వివేక్.. మినిస్టర్ అయిన తర్వాత బ్రేక్ చేయడంపై విమర్శలు</text>
<circle cx="1309" cy="2445" r="5" fill="#231f20"/>
<text class="bd" x="1322" y="2451" style="font-size:18px" textLength="366" lengthAdjust="spacingAndGlyphs">ఇబ్బందులు పడుతున్న 10 గ్రామాల ప్రజలు, విద్యార్థులు</text>
<circle cx="1699" cy="2445" r="5" fill="#231f20"/>
<text class="bd" x="1713" y="2451" style="font-size:18px" textLength="351" lengthAdjust="spacingAndGlyphs">తప్పనిసరి పరిస్థితుల్లో ప్రైవేట్ వాహనాల్లో ప్రయాణం</text>
<circle cx="1439" cy="2478" r="5" fill="#231f20"/>
<text class="bd" x="1451" y="2484" style="font-size:18px" textLength="483" lengthAdjust="spacingAndGlyphs">సిరొంచ-కాళేశ్వరం రూట్&#8204;లో బస్సుల కుదింపుతో ప్రయాణికుల అవస్థలు</text>
</g>

<g id="bus-main-story-col1">
<text x="877" y="2527" textLength="51" lengthAdjust="spacingAndGlyphs">కోటపల్లి,</text>
<text x="864" y="2551" textLength="93" lengthAdjust="spacingAndGlyphs">జూన్   22   :</text>
<text x="848" y="2575" textLength="109" lengthAdjust="spacingAndGlyphs">మహాలక్ష్మి పథకం</text>
<text x="832" y="2599" textLength="125" lengthAdjust="spacingAndGlyphs">ద్వారా పల్లె పల్లెకూ</text>
<text x="816" y="2623" textLength="141" lengthAdjust="spacingAndGlyphs">ఆర్టీసీ సేవలందిస్తున్నా</text>
<text x="800" y="2647" textLength="157" lengthAdjust="spacingAndGlyphs">మని గొప్పలు చెప్పుకుం</text>
<text x="788" y="2671" textLength="169" lengthAdjust="spacingAndGlyphs">టున్న సర్కారు.. ఆచరణలో</text>
<text x="772" y="2695" textLength="185" lengthAdjust="spacingAndGlyphs">మాత్రం విఫలమవుతున్నది. ఆ</text>
<text x="759" y="2719" textLength="198" lengthAdjust="spacingAndGlyphs">యా రూట్లలో ఆర్టీసీ బస్సులతో</text>
<text x="743" y="2743" textLength="214" lengthAdjust="spacingAndGlyphs">పాటు ట్రిప్పులనూ తగ్గిస్తుండగా, ప్ర</text>
<text x="730" y="2767" textLength="227" lengthAdjust="spacingAndGlyphs">యాణికులు తప్పనిసరి పరిస్థితుల్లో</text>
<text x="714" y="2790" textLength="243" lengthAdjust="spacingAndGlyphs">ప్రైవేట్ వాహనాలను ఆశ్రయించాల్సి వస్తు</text>
<text x="698" y="2814" textLength="256" lengthAdjust="spacingAndGlyphs">న్నది. ప్రధానంగా వివేక్ మంత్రిగా ఉన్న ని</text>
<text x="684" y="2838" textLength="270" lengthAdjust="spacingAndGlyphs">యోజకవర్గంలోని కోటపల్లి మండలంలో సగా</text>
<text x="667" y="2862" textLength="287" lengthAdjust="spacingAndGlyphs">నికి పైగా గ్రామాలు నేటి వరకూ బస్సులకు నోచు</text>
<text x="653" y="2886" textLength="301" lengthAdjust="spacingAndGlyphs">కోకపోగా, మరోవైపు బస్సులు నడుస్తున్న రూట్లలో</text>
<text x="639" y="2910" textLength="277" lengthAdjust="spacingAndGlyphs">సేవలు తగ్గిస్తుండడం విమర్శలకు తావిస్తున్నది.</text>
<text class="sub" x="621" y="2942" textLength="270" lengthAdjust="spacingAndGlyphs">జనగామ రూట్&#8204;లో నిలిచిన ఆర్టీసీ సేవలు</text>
<text x="607" y="2991" textLength="347" lengthAdjust="spacingAndGlyphs">కోటపల్లి మండలం జనగామ గ్రామానికి ప్రతి రోజూ</text>
<text x="607" y="3014" textLength="347" lengthAdjust="spacingAndGlyphs">ఉదయం.. సాయంత్రం ఆర్టీసీ బస్సు నడిచేది. గతంలో ఈ</text>
<text x="611" y="3039" textLength="343" lengthAdjust="spacingAndGlyphs">రూట్&#8204;లో రోడ్డు బాగున్నా.. ఏవేవో సాకులు చెప్పి ఆర్టీసీ</text>
<text x="632" y="3063" textLength="322" lengthAdjust="spacingAndGlyphs">బస్సును రద్దు చేశారు. ఈ విషయమై 'నమస్తే తెలం</text>
<text x="670" y="3086" textLength="284" lengthAdjust="spacingAndGlyphs">గాణ' ప్రముఖంగా కథనాలు ప్రచురించడంతో</text>
<text x="709" y="3109" textLength="245" lengthAdjust="spacingAndGlyphs">స్పందించిన   ఆర్టీసీ..   బస్సు   సేవలను</text>
<text x="747" y="3134" textLength="207" lengthAdjust="spacingAndGlyphs">పునఃరుద్ధరించింది.  గతంలో  జన</text>
<text x="786" y="3158" textLength="168" lengthAdjust="spacingAndGlyphs">గామ రూట్&#8204;లో బస్సులు నడి</text>
<text x="828" y="3180" textLength="126" lengthAdjust="spacingAndGlyphs">పించండి     సారూ..</text>
<text x="870" y="3202" textLength="42" lengthAdjust="spacingAndGlyphs">అంటూ</text>
</g>

<g id="bus-main-story-col2">
<text x="968" y="2527" textLength="165" lengthAdjust="spacingAndGlyphs">చెన్నూర్ ఎమ్మెల్యే (ప్ర</text>
<text x="968" y="2551" textLength="165" lengthAdjust="spacingAndGlyphs">స్తుత మంత్రి) వివేక్&#8204;కు</text>
<text x="968" y="2575" textLength="165" lengthAdjust="spacingAndGlyphs">ఆయా గ్రామాల కాంగ్రెస</text>
<text x="968" y="2599" textLength="165" lengthAdjust="spacingAndGlyphs">నాయకులే స్వయంగా</text>
<text x="968" y="2623" textLength="165" lengthAdjust="spacingAndGlyphs">మొరపెట్టుకోవడం గమ</text>
<text x="968" y="2647" textLength="165" lengthAdjust="spacingAndGlyphs">నార్హం. ప్రస్తుతం ఇదే</text>
<text x="968" y="2671" textLength="165" lengthAdjust="spacingAndGlyphs">మార్గంలో వారం నుంచి</text>
<text x="968" y="2695" textLength="165" lengthAdjust="spacingAndGlyphs">బస్సు సేవలు నిలిపి వేయ</text>
<text x="968" y="2719" textLength="165" lengthAdjust="spacingAndGlyphs">డంతో పారుపల్లి, లింగన్న</text>
<text x="968" y="2743" textLength="165" lengthAdjust="spacingAndGlyphs">పేట, ఎర్రాయిపేట, బబ్బెరధం,</text>
<text x="968" y="2767" textLength="165" lengthAdjust="spacingAndGlyphs">సిర్సా, పుట్టగూడెం, రొయ్య</text>
<text x="968" y="2790" textLength="165" lengthAdjust="spacingAndGlyphs">లపల్లి, ఆలుగామ, జన</text>
<text x="968" y="2814" textLength="165" lengthAdjust="spacingAndGlyphs">గామ, సూపాక, నంద</text>
<text x="968" y="2838" textLength="359" lengthAdjust="spacingAndGlyphs">రాంపల్లి గ్రామాల ప్రజలు తీవ్ర ఇబ్బందులు పడుతున్నారు.</text>
<text x="968" y="2862" textLength="359" lengthAdjust="spacingAndGlyphs">ఆర్టీసీ అధికారులు ఈ రూట్&#8204;లో ఆర్టీసీ సేవలు రద్దు చేసి</text>
<text x="968" y="2886" textLength="359" lengthAdjust="spacingAndGlyphs">ప్రైవేట్ ప్రయాణాన్ని ప్రోత్సహిస్తున్నారని ప్రయాణికులు ఆరో</text>
<text x="968" y="2910" textLength="359" lengthAdjust="spacingAndGlyphs">పిస్తున్నారు. జనగామ రూట్&#8204;లో బస్సు సేవలు లేకపోవ</text>
<text x="968" y="2934" textLength="359" lengthAdjust="spacingAndGlyphs">డంతో సిర్సా, పారుపల్లికి చెందిన విద్యార్థులు కాలినడకన</text>
<text x="968" y="2958" textLength="359" lengthAdjust="spacingAndGlyphs">ప్రభుత్వ ఉన్నత పాఠశాలలకు వెళ్లాల్సి వస్తున్నది. మంత్రి</text>
<text x="968" y="2982" textLength="359" lengthAdjust="spacingAndGlyphs">గడ్డం వివేక్ ప్రాతినిధ్యం వహిస్తున్న జనగామ రూట్&#8204;లో</text>
<text x="968" y="3005" textLength="359" lengthAdjust="spacingAndGlyphs">బస్సులు నడిపించాలని సిర్సా గ్రామానికి చెందిన అధికార</text>
<text x="968" y="3029" textLength="359" lengthAdjust="spacingAndGlyphs">పార్టీ నాయకులు శుక్రవారం చెన్నూర్&#8204;లో బస్టాండ్&#8204;లోని</text>
<text x="968" y="3053" textLength="192" lengthAdjust="spacingAndGlyphs">ఆర్టీసీ సిబ్బందికి వినతి పత్రం ఇచ్చారు.</text>
<text class="sub" x="968" y="3083" textLength="255" lengthAdjust="spacingAndGlyphs">సిరొంచ-కాళేశ్వరం రూట్&#8204;లో తగ్గిన ట్రిప్పులు</text>
<text x="968" y="3125" textLength="359" lengthAdjust="spacingAndGlyphs">చెన్నూర్ నుంచి సిరొంచ-కాళేశ్వరం రూట్&#8204;లలోనూ అధికా</text>
<text x="968" y="3149" textLength="359" lengthAdjust="spacingAndGlyphs">రులు సర్వీస్ ట్రిప్పులను తగ్గించారు. ఇక పల్లెవెలుగు బస్సు</text>
<text x="968" y="3173" textLength="359" lengthAdjust="spacingAndGlyphs">లకు.. ఎక్స్&#8204;ప్రెస్ బస్సులంటూ బోర్డులు పెట్టి నడిపిస్తూ</text>
<text x="968" y="3197" textLength="359" lengthAdjust="spacingAndGlyphs">ప్రయాణికులపై భారం మోపుతున్నారు. నిత్యం ఈ మార్గం</text>
</g>

<g id="bus-main-story-col3">
<text class="cap" x="1178" y="2806" textLength="488" lengthAdjust="spacingAndGlyphs">గతంలో జనగామ గ్రామానికి వచ్చిన బస్సుకు స్వాగతం పలుకుతున్న గ్రామస్తులు (ఫైల్)</text>
<text x="1351" y="2838" textLength="350" lengthAdjust="spacingAndGlyphs">రద్దీ ఉండేది కాగా.. ఆర్టీసీ అధికారులు వ్యవహరిస్తున్న</text>
<text x="1351" y="2862" textLength="350" lengthAdjust="spacingAndGlyphs">తీరుపూ విమర్శలు వస్తున్నాయి. పల్లెవెలుగు బస్సులకు ఎక్స్</text>
<text x="1351" y="2886" textLength="350" lengthAdjust="spacingAndGlyphs">ప్రెస్ బస్సు బోర్డులు పెట్టి నడిపిస్తుండడం వల్ల ఈ బస్సు</text>
<text x="1351" y="2910" textLength="350" lengthAdjust="spacingAndGlyphs">కోటపల్లి మండలం కొల్లూరు బస్ స్టాప్&#8204;లో మినహా ఎక్కడా</text>
<text x="1351" y="2934" textLength="350" lengthAdjust="spacingAndGlyphs">ఆగడం లేదు. ఈ మార్గంలో చెన్నూర్ మండలంలోని చింత</text>
<text x="1351" y="2958" textLength="350" lengthAdjust="spacingAndGlyphs">లపల్లి, అక్కెపల్లి, కోటపల్లి మండలంలోని పారుపల్లి బస్టాప్,</text>
<text x="1351" y="2982" textLength="350" lengthAdjust="spacingAndGlyphs">ఎర్రాయిపేట, రాంపూర్, దేవులవాడ, బబ్బెరచెలుక, వెలమ</text>
<text x="1351" y="3005" textLength="350" lengthAdjust="spacingAndGlyphs">పల్లి, లక్ష్మీపూర్ గ్రామాల్లో బస్సులు నిలుపడం లేదు. ఫలి</text>
<text x="1351" y="3029" textLength="350" lengthAdjust="spacingAndGlyphs">తంగా ప్రజలు అధిక చార్జీలు చెల్లించి ప్రైవేట్ వాహనాల్లో</text>
<text x="1351" y="3053" textLength="350" lengthAdjust="spacingAndGlyphs">ప్రయాణం చేయాల్సి వస్తోంది. ఇకనైనా ఆర్టీసీ బస్సుల</text>
<text x="1351" y="3077" textLength="350" lengthAdjust="spacingAndGlyphs">సంఖ్య పెంచడంతో పాటు ఎక్స్&#8204;ప్రెస్ బస్సులుగా మార్చిన</text>
<text x="1351" y="3101" textLength="350" lengthAdjust="spacingAndGlyphs">పల్లెవెలుగు బస్సులను తిరిగి పల్లెవెలుగు స్థానంలోనే కొన</text>
<text x="1351" y="3125" textLength="350" lengthAdjust="spacingAndGlyphs">సాగించాలని, లేదంటే రోడ్డెక్కి ఆందోళన చేపడుతామని</text>
<text x="1351" y="3149" textLength="350" lengthAdjust="spacingAndGlyphs">పారుపల్లి, ఎర్రాయిపేట, రాంపూర్, దేవులవాడ, బబ్బెరచె</text>
<text x="1351" y="3173" textLength="350" lengthAdjust="spacingAndGlyphs">లుక, లక్ష్మీపూర్, వెలమపల్లి తదితర గ్రామాల ప్రజలు హెచ్చ</text>
<text x="1351" y="3197" textLength="69" lengthAdjust="spacingAndGlyphs">రిస్తున్నారు.</text>
</g>

<g id="bus-main-story-col4">
<text class="sub" x="1725" y="2531" textLength="240" lengthAdjust="spacingAndGlyphs">అసెంబ్లీలో మాట్లాడినా బస్సు రాలే..</text>
<text x="1725" y="2572" textLength="347" lengthAdjust="spacingAndGlyphs">గతేడాది డిసెంబర్ 17న జరిగిన అసెంబ్లీ సమావేశాల్లో జన</text>
<text x="1725" y="2596" textLength="347" lengthAdjust="spacingAndGlyphs">గామ, నక్కలపల్లి రూట్&#8204;లతో పాటు హైదరాబాద్(ఉదయం)</text>
<text x="1725" y="2620" textLength="347" lengthAdjust="spacingAndGlyphs">కు ఆర్టీసీ బస్సులు నడిపించాలని చెన్నూర్ ఎమ్మెల్యే (ప్రస్తుత</text>
<text x="1725" y="2643" textLength="347" lengthAdjust="spacingAndGlyphs">మంత్రి) ప్రభుత్వాన్ని వివేక్ కోరారు. అయినా ఫలితం</text>
<text x="1725" y="2667" textLength="347" lengthAdjust="spacingAndGlyphs">లేకుండా పోయింది. ఆపై వివేక్ ఆగ్రహం వ్యక్తం చేయడంతో</text>
<text x="1725" y="2691" textLength="347" lengthAdjust="spacingAndGlyphs">ఒక్క జనగామ రూట్&#8204;లో మాత్రమే బస్సు నడిపించారు. ఆరు</text>
<text x="1725" y="2715" textLength="347" lengthAdjust="spacingAndGlyphs">నెలల పాటు బస్సును నడిపిన ఆర్టీసీ అధికారులు.. ప్రస్తుతం</text>
<text x="1725" y="2739" textLength="347" lengthAdjust="spacingAndGlyphs">వివేక్ మంత్రి అయిన సమయంలో ఆ బస్సు సేవలను నిలి</text>
<text x="1725" y="2762" textLength="347" lengthAdjust="spacingAndGlyphs">పివేశారు. దీనిపై విమర్శలు వెల్లువెత్తుతున్నాయి. నక్కలపల్లి</text>
<text x="1725" y="2786" textLength="347" lengthAdjust="spacingAndGlyphs">గ్రామానికి ఇప్పటి వరకు బస్సు సర్వీస్ నడవకపోగా పంగి</text>
<text x="1725" y="2810" textLength="347" lengthAdjust="spacingAndGlyphs">డిసోమారం, రాజారం, కావర కొత్తపల్లి, బొప్పారం, నాగం</text>
<text x="1725" y="2834" textLength="347" lengthAdjust="spacingAndGlyphs">పేట, కొండంపేట, ఎసన్వాయి, ఎడగట్ట, పిన్నారం</text>
<text x="1725" y="2858" textLength="324" lengthAdjust="spacingAndGlyphs">గ్రామాలు ఆర్టీసీ సేవలకు ఆమాడ దూరంలో ఉన్నాయి</text>
<text class="mg bd it" x="1743" y="2919" style="font-size:32px" textLength="263" lengthAdjust="spacingAndGlyphs">మాకొద్దా మహాలక్ష్మి పథకం</text>
<text x="1743" y="2959" textLength="157" lengthAdjust="spacingAndGlyphs">మంత్రి వివేక్ సారూ.. మా</text>
<text x="1743" y="2984" textLength="138" lengthAdjust="spacingAndGlyphs">ఊళ్లకు బస్సు వస్తలేదు.</text>
<text x="1743" y="3008" textLength="147" lengthAdjust="spacingAndGlyphs">మహాలక్ష్మి పథకం మాకు</text>
<text x="1743" y="3033" textLength="148" lengthAdjust="spacingAndGlyphs">వర్తించదా. ఇప్పటి దాకా</text>
<text x="1743" y="3057" textLength="123" lengthAdjust="spacingAndGlyphs">బస్సులు నడిపించిన</text>
<text x="1743" y="3082" textLength="153" lengthAdjust="spacingAndGlyphs">అధికారులు మా ఎమ్మెల్యే</text>
<text x="1743" y="3106" textLength="141" lengthAdjust="spacingAndGlyphs">మంత్రి అయిన తర్వాత</text>
<text x="1743" y="3131" textLength="150" lengthAdjust="spacingAndGlyphs">రద్దు చేయడం దారుణం.</text>
<text x="1743" y="3155" textLength="225" lengthAdjust="spacingAndGlyphs">ఇకనైనా మా మంత్రి చొరవ చూపాలి.</text>
<text class="bd it" x="1867" y="3180" textLength="191" lengthAdjust="spacingAndGlyphs">- శనిగారం సత్యక్క, రొయ్యలపల్లి</text>
</g>
</svg>
